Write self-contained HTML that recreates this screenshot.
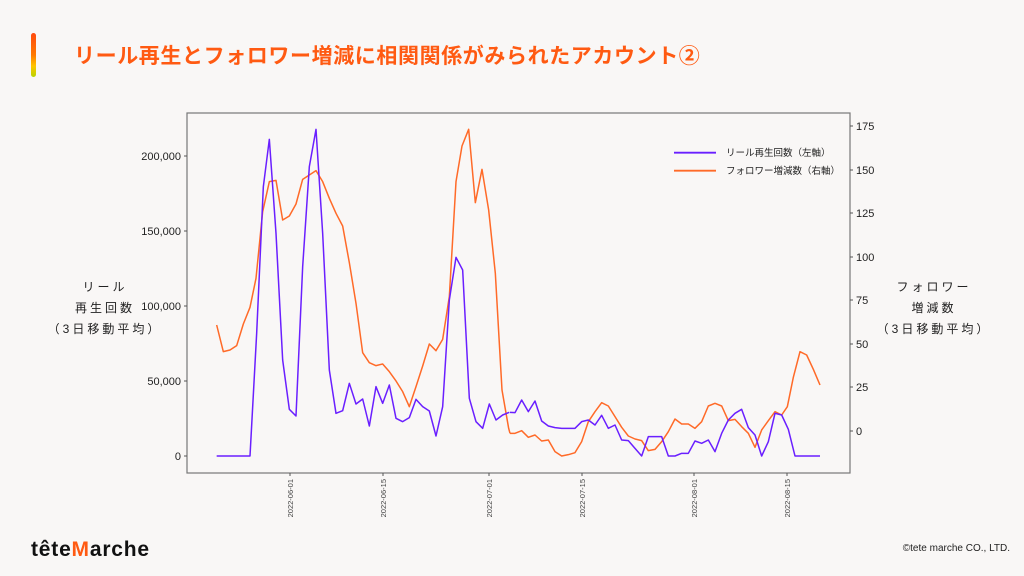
<!DOCTYPE html>
<html><head><meta charset="utf-8"><style>
html,body{margin:0;padding:0;background:#f9f7f6;}
body{width:1024px;height:576px;position:relative;overflow:hidden;font-family:"Liberation Sans","Noto Sans CJK JP",sans-serif;}
.bar{position:absolute;left:31px;top:33px;width:5px;height:44px;border-radius:3px;background:linear-gradient(#ff4a10,#ff7a00 50%,#ffc400 75%,#b8d400);}
.title{position:absolute;left:74px;top:40px;font-size:21px;font-weight:bold;color:#ff5a12;letter-spacing:0.6px;white-space:nowrap;}
.lab{position:absolute;font-size:12px;color:#222;text-align:center;letter-spacing:3px;line-height:21px;white-space:nowrap;}
.logo{position:absolute;left:31px;top:538px;font-size:21px;font-weight:bold;color:#111;letter-spacing:0.8px;}
.logo span{color:#ff5a12;}
.copy{position:absolute;right:14px;top:543px;font-size:10px;color:#222;}
</style></head><body>
<div class="bar"></div>
<div class="title">リール再生とフォロワー増減に相関関係がみられたアカウント②</div>
<div class="lab" style="left:40px;top:277px;width:130px;">リール<br>再生回数<br>（3日移動平均）</div>
<div class="lab" style="left:866px;top:277px;width:136px;">フォロワー<br>増減数<br>（3日移動平均）</div>
<svg width="1024" height="576" style="position:absolute;left:0;top:0" font-family="Liberation Sans, sans-serif">
<rect x="187" y="113" width="663" height="360" fill="none" stroke="#777" stroke-width="1.2"/>
<g font-size="11" fill="#222" text-anchor="end">
<text x="181" y="160">200,000</text><line x1="184" x2="187" y1="156" y2="156" stroke="#555"/>
<text x="181" y="235">150,000</text><line x1="184" x2="187" y1="231" y2="231" stroke="#555"/>
<text x="181" y="310">100,000</text><line x1="184" x2="187" y1="306" y2="306" stroke="#555"/>
<text x="181" y="385">50,000</text><line x1="184" x2="187" y1="381" y2="381" stroke="#555"/>
<text x="181" y="460">0</text><line x1="184" x2="187" y1="456" y2="456" stroke="#555"/>
</g>
<g font-size="11" fill="#222">
<text x="856" y="130">175</text><text x="856" y="174">150</text><text x="856" y="217">125</text><text x="856" y="261">100</text><text x="856" y="304">75</text><text x="856" y="348">50</text><text x="856" y="391">25</text><text x="856" y="435">0</text>
</g>
<g stroke="#555"><line x1="850" x2="853" y1="126" y2="126"/><line x1="850" x2="853" y1="170" y2="170"/><line x1="850" x2="853" y1="213" y2="213"/><line x1="850" x2="853" y1="257" y2="257"/><line x1="850" x2="853" y1="300" y2="300"/><line x1="850" x2="853" y1="344" y2="344"/><line x1="850" x2="853" y1="387" y2="387"/><line x1="850" x2="853" y1="431" y2="431"/>
<line x1="290" x2="290" y1="473" y2="476"/><line x1="383" x2="383" y1="473" y2="476"/><line x1="489" x2="489" y1="473" y2="476"/><line x1="582" x2="582" y1="473" y2="476"/><line x1="694" x2="694" y1="473" y2="476"/><line x1="787" x2="787" y1="473" y2="476"/></g>
<g font-size="7.5" fill="#444" text-anchor="end">
<text transform="translate(293,479) rotate(-90)">2022-06-01</text>
<text transform="translate(386,479) rotate(-90)">2022-06-15</text>
<text transform="translate(492,479) rotate(-90)">2022-07-01</text>
<text transform="translate(585,479) rotate(-90)">2022-07-15</text>
<text transform="translate(697,479) rotate(-90)">2022-08-01</text>
<text transform="translate(790,479) rotate(-90)">2022-08-15</text>
</g>
<g transform="translate(170,100) scale(0.33333)" fill="none" stroke-linejoin="round">
<polyline vector-effect="non-scaling-stroke" stroke="#ff6a28" stroke-width="1.5" points="140,675 160,755 180,750 200,737 220,672 240,622 258,535 278,335 298,245 318,241 338,360 358,348 378,312 398,238 418,225 438,212 458,245 478,295 498,340 518,378 538,488 558,610 578,758 598,788 618,797 638,792 658,815 678,843 698,875 718,920 738,860 758,798 778,732 798,752 818,718 838,590 858,245 876,138 896,88 916,308 936,208 956,330 976,520 996,870 1016,985 1020,1000"/>
<polyline vector-effect="non-scaling-stroke" stroke="#6a1fff" stroke-width="1.5" points="140,1068 240,1068 260,700 280,260 298,118 318,400 338,780 358,928 378,948 398,500 418,200 438,88 458,400 478,810 498,940 518,932 538,850 558,912 578,897 598,978 618,860 638,910 658,855 678,955 698,965 718,953 738,898 758,920 778,933 798,1008 818,920 838,600 858,472 878,510 898,895 918,965 938,985 958,912 978,960 998,945 1018,937"/>
</g>
<g transform="translate(500,100) scale(0.33333)" fill="none" stroke-linejoin="round">
<polyline vector-effect="non-scaling-stroke" stroke="#ff6a28" stroke-width="1.5" points="30,1000 45,1000 65,992 85,1012 105,1005 125,1023 145,1020 165,1055 185,1068 205,1064 225,1058 245,1025 265,965 285,935 305,908 325,918 345,950 365,982 385,1008 405,1017 425,1022 445,1052 465,1048 485,1025 505,995 525,957 545,972 565,972 585,985 605,965 625,918 645,910 665,918 685,962 705,958 725,980 745,1000 765,1042 785,990 805,962 825,935 845,945 862,920 880,832 900,755 920,765 940,808 960,855"/>
<polyline vector-effect="non-scaling-stroke" stroke="#6a1fff" stroke-width="1.5" points="30,937 45,938 65,900 85,935 105,903 125,963 145,978 165,983 185,985 205,985 225,985 245,965 265,960 285,975 305,946 325,985 345,975 365,1020 385,1022 405,1045 425,1068 445,1010 465,1010 485,1010 505,1068 525,1068 545,1060 565,1060 585,1023 605,1030 625,1020 645,1055 665,1000 685,960 705,940 725,928 745,983 765,1005 785,1068 805,1025 825,940 845,945 865,988 885,1068 960,1068"/>
<line x1="522" x2="648" y1="158" y2="158" stroke="#6a1fff" stroke-width="1.8" vector-effect="non-scaling-stroke"/>
<line x1="522" x2="648" y1="212" y2="212" stroke="#ff6a28" stroke-width="1.8" vector-effect="non-scaling-stroke"/>
</g>
<g font-size="9.5" fill="#222" font-family="Liberation Sans, Noto Sans CJK JP, sans-serif">
<text x="726" y="156">リール再生回数（左軸）</text>
<text x="726" y="174">フォロワー増減数（右軸）</text>
</g>
</svg>
<div class="logo">tête<span>M</span>arche</div>
<div class="copy">©tete marche CO., LTD.</div>
</body></html>
